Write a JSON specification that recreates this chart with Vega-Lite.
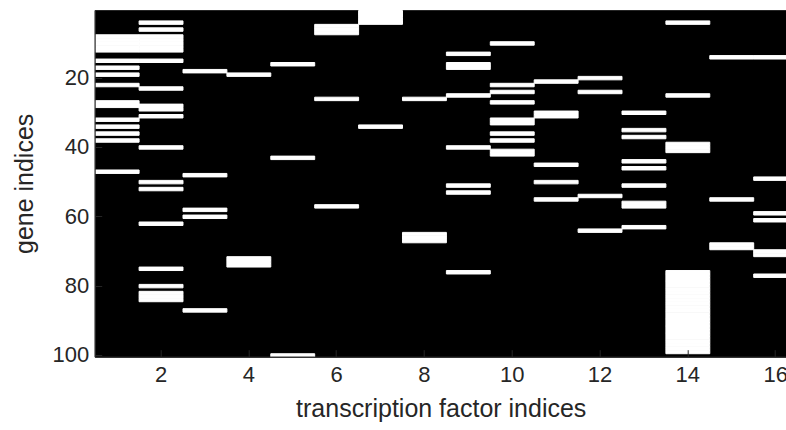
{
  "$schema": "https://vega.github.io/schema/vega-lite/v6.json",
  "description": "Binary regulation matrix: white cells mark genes bound by each transcription factor.",
  "width": 692,
  "height": 346.7,
  "autosize": "none",
  "padding": {"left": 94.7, "top": 10, "right": 0, "bottom": 73.3},
  "background": "#ffffff",
  "config": {
    "font": "Liberation Sans",
    "view": {"fill": "#000000", "stroke": "#262626", "strokeWidth": 1},
    "axis": {
      "grid": false,
      "domainColor": "#262626",
      "domainWidth": 1,
      "ticks": true,
      "tickColor": "#262626",
      "tickWidth": 1,
      "tickSize": -7,
      "labelColor": "#262626",
      "labelFontSize": 22,
      "titleColor": "#262626",
      "titleFontSize": 25,
      "titleFontWeight": "normal"
    }
  },
  "data": {
    "values": [
      {"tf": 1, "gene": 8}, {"tf": 1, "gene": 9}, {"tf": 1, "gene": 10}, {"tf": 1, "gene": 11}, {"tf": 1, "gene": 12},
      {"tf": 1, "gene": 15}, {"tf": 1, "gene": 17}, {"tf": 1, "gene": 19}, {"tf": 1, "gene": 22}, {"tf": 1, "gene": 27},
      {"tf": 1, "gene": 28}, {"tf": 1, "gene": 32}, {"tf": 1, "gene": 34}, {"tf": 1, "gene": 36}, {"tf": 1, "gene": 38},
      {"tf": 1, "gene": 47},
      {"tf": 2, "gene": 4}, {"tf": 2, "gene": 6}, {"tf": 2, "gene": 8}, {"tf": 2, "gene": 9}, {"tf": 2, "gene": 10},
      {"tf": 2, "gene": 11}, {"tf": 2, "gene": 12}, {"tf": 2, "gene": 15}, {"tf": 2, "gene": 23}, {"tf": 2, "gene": 28},
      {"tf": 2, "gene": 29}, {"tf": 2, "gene": 31}, {"tf": 2, "gene": 40}, {"tf": 2, "gene": 50}, {"tf": 2, "gene": 52},
      {"tf": 2, "gene": 62}, {"tf": 2, "gene": 75}, {"tf": 2, "gene": 80}, {"tf": 2, "gene": 82}, {"tf": 2, "gene": 83},
      {"tf": 2, "gene": 84},
      {"tf": 3, "gene": 18}, {"tf": 3, "gene": 48}, {"tf": 3, "gene": 58}, {"tf": 3, "gene": 60}, {"tf": 3, "gene": 87},
      {"tf": 4, "gene": 19}, {"tf": 4, "gene": 72}, {"tf": 4, "gene": 73}, {"tf": 4, "gene": 74},
      {"tf": 5, "gene": 16}, {"tf": 5, "gene": 43}, {"tf": 5, "gene": 100},
      {"tf": 6, "gene": 5}, {"tf": 6, "gene": 6}, {"tf": 6, "gene": 7}, {"tf": 6, "gene": 26}, {"tf": 6, "gene": 57},
      {"tf": 7, "gene": 1}, {"tf": 7, "gene": 2}, {"tf": 7, "gene": 3}, {"tf": 7, "gene": 4}, {"tf": 7, "gene": 34},
      {"tf": 8, "gene": 26}, {"tf": 8, "gene": 65}, {"tf": 8, "gene": 66}, {"tf": 8, "gene": 67},
      {"tf": 9, "gene": 13}, {"tf": 9, "gene": 16}, {"tf": 9, "gene": 17}, {"tf": 9, "gene": 25}, {"tf": 9, "gene": 40},
      {"tf": 9, "gene": 51}, {"tf": 9, "gene": 53}, {"tf": 9, "gene": 76},
      {"tf": 10, "gene": 10}, {"tf": 10, "gene": 22}, {"tf": 10, "gene": 24}, {"tf": 10, "gene": 27}, {"tf": 10, "gene": 32},
      {"tf": 10, "gene": 33}, {"tf": 10, "gene": 36}, {"tf": 10, "gene": 38}, {"tf": 10, "gene": 41}, {"tf": 10, "gene": 42},
      {"tf": 11, "gene": 21}, {"tf": 11, "gene": 30}, {"tf": 11, "gene": 31}, {"tf": 11, "gene": 45}, {"tf": 11, "gene": 50},
      {"tf": 11, "gene": 55},
      {"tf": 12, "gene": 20}, {"tf": 12, "gene": 24}, {"tf": 12, "gene": 54}, {"tf": 12, "gene": 64},
      {"tf": 13, "gene": 30}, {"tf": 13, "gene": 35}, {"tf": 13, "gene": 37}, {"tf": 13, "gene": 44}, {"tf": 13, "gene": 46},
      {"tf": 13, "gene": 51}, {"tf": 13, "gene": 56}, {"tf": 13, "gene": 57}, {"tf": 13, "gene": 63},
      {"tf": 14, "gene": 4}, {"tf": 14, "gene": 25}, {"tf": 14, "gene": 39}, {"tf": 14, "gene": 40}, {"tf": 14, "gene": 41},
      {"tf": 14, "gene": 76}, {"tf": 14, "gene": 77}, {"tf": 14, "gene": 78}, {"tf": 14, "gene": 79}, {"tf": 14, "gene": 80},
      {"tf": 14, "gene": 81}, {"tf": 14, "gene": 82}, {"tf": 14, "gene": 83}, {"tf": 14, "gene": 84}, {"tf": 14, "gene": 85},
      {"tf": 14, "gene": 86}, {"tf": 14, "gene": 87}, {"tf": 14, "gene": 88}, {"tf": 14, "gene": 89}, {"tf": 14, "gene": 90},
      {"tf": 14, "gene": 91}, {"tf": 14, "gene": 92}, {"tf": 14, "gene": 93}, {"tf": 14, "gene": 94}, {"tf": 14, "gene": 95},
      {"tf": 14, "gene": 96}, {"tf": 14, "gene": 97}, {"tf": 14, "gene": 98}, {"tf": 14, "gene": 99},
      {"tf": 15, "gene": 14}, {"tf": 15, "gene": 55}, {"tf": 15, "gene": 68}, {"tf": 15, "gene": 69},
      {"tf": 16, "gene": 14}, {"tf": 16, "gene": 49}, {"tf": 16, "gene": 59}, {"tf": 16, "gene": 61}, {"tf": 16, "gene": 70},
      {"tf": 16, "gene": 71}, {"tf": 16, "gene": 77}
    ]
  },
  "mark": {"type": "rect", "color": "#ffffff", "stroke": "#ffffff", "strokeWidth": 1, "clip": true},
  "encoding": {
    "x": {
      "field": "tf",
      "type": "quantitative",
      "bin": {"step": 1, "anchor": 0.5, "extent": [0.5, 16.5], "nice": false},
      "scale": {"domain": [0.5, 16.263], "nice": false, "zero": false},
      "axis": {
        "values": [2, 4, 6, 8, 10, 12, 14, 16],
        "format": "d",
        "labelPadding": 14.5,
        "labelFlush": false,
        "title": "transcription factor indices",
        "titlePadding": 11
      }
    },
    "y": {
      "field": "gene",
      "type": "quantitative",
      "bin": {"step": 1, "anchor": 0.5, "extent": [0.5, 100.5], "nice": false},
      "scale": {"domain": [0.5, 100.5], "nice": false, "zero": false, "reverse": true},
      "axis": {
        "values": [20, 40, 60, 80, 100],
        "format": "d",
        "labelPadding": 13,
        "labelFlush": false,
        "title": "gene indices",
        "titlePadding": 14
      }
    }
  }
}
